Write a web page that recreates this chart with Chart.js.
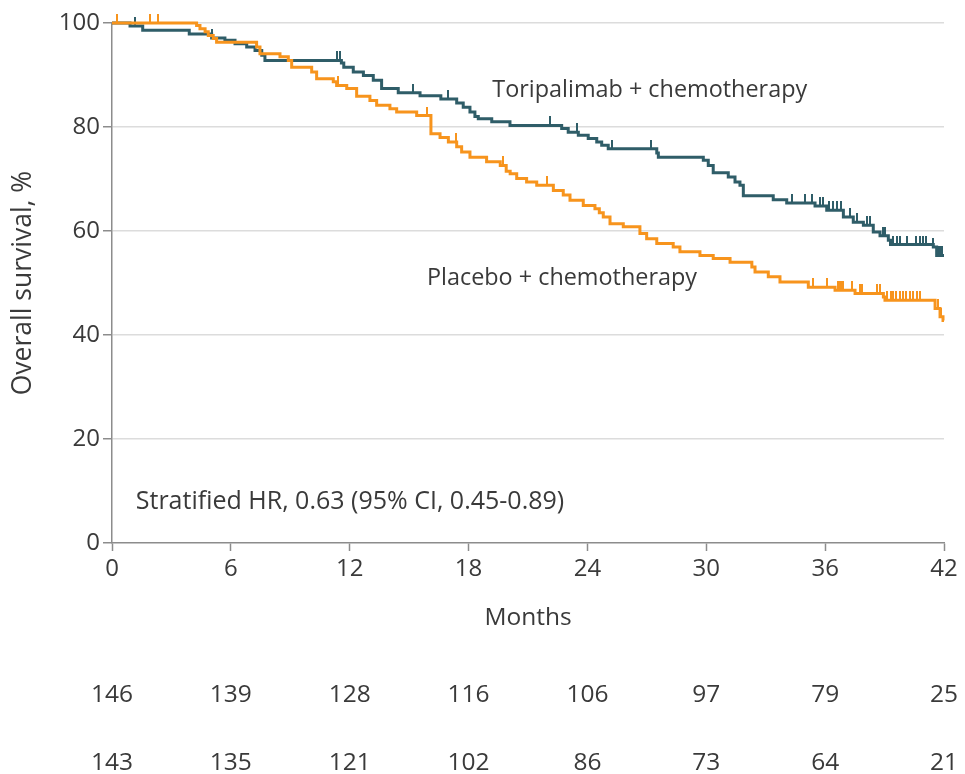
<!DOCTYPE html>
<html><head><meta charset="utf-8">
<script src="https://cdn.jsdelivr.net/npm/chart.js@4"></script>
<style>html,body{margin:0;padding:0;background:#fff}#wrap{width:965px;height:774px;position:relative}</style>
</head><body><div id="wrap"><canvas id="c" width="965" height="774"></canvas></div>
<script>
// ---- data ----
const monthTicks = [0, 6, 12, 18, 24, 30, 36, 42];
const toriAtRisk = [146, 139, 128, 116, 106, 97, 79, 25];
const placAtRisk = [143, 135, 121, 102, 86, 73, 64, 21];

const toriTimes = [0, 0.91, 1.55, 3.90, 5.03, 5.70, 6.21, 6.80, 7.22, 7.56, 7.72, 11.58, 11.70, 12.18, 12.69, 13.19, 13.61, 14.45, 15.55, 16.60, 17.40, 17.73, 18.07, 18.32, 18.49, 19.17, 20.09, 22.70, 23.03, 23.54, 24.04, 24.47, 24.72, 25.05, 27.50, 27.58, 29.85, 30.10, 30.35, 31.11, 31.45, 31.70, 31.87, 33.38, 34.06, 35.49, 36.08, 36.92, 37.42, 37.93, 38.43, 38.77, 39.19, 39.30, 41.46, 41.63, 42];
const toriSurv = [100, 99.4, 98.6, 97.9, 97.1, 96.7, 96.0, 95.4, 94.7, 93.8, 92.8, 92.3, 91.5, 90.6, 89.9, 89.0, 87.4, 86.6, 86.0, 85.4, 84.6, 83.8, 82.9, 82.0, 81.6, 81.0, 80.3, 79.7, 79.0, 78.4, 77.8, 77.1, 76.5, 75.8, 75.0, 74.2, 73.6, 72.6, 71.2, 70.4, 69.4, 68.8, 66.8, 66.0, 65.4, 64.8, 64.0, 62.7, 61.7, 61.1, 59.8, 59.1, 58.2, 57.4, 56.9, 55.3, 55.3];
const toriCensor = [1.16, 5.06, 11.37, 11.52, 15.2, 16.98, 22.11, 23.46, 25.26, 27.21, 34.31, 34.98, 35.32, 35.74, 35.91, 36.2, 36.4, 36.6, 36.8, 37.25, 37.59, 38.1, 38.26, 38.94, 39.02, 39.44, 39.61, 39.77, 40.11, 40.61, 40.78, 40.94, 41.11, 41.46, 41.7, 41.8, 41.9];

const placTimes = [0, 4.27, 4.44, 4.70, 4.86, 5.11, 5.28, 7.30, 7.47, 8.48, 8.90, 9.07, 10.08, 10.33, 11.17, 11.34, 11.85, 12.35, 13.02, 13.36, 14.03, 14.37, 15.38, 16.10, 16.56, 16.98, 17.40, 17.65, 18.07, 18.91, 19.60, 19.90, 20.10, 20.43, 20.93, 21.44, 22.28, 22.78, 23.12, 23.79, 24.38, 24.60, 24.80, 25.14, 25.81, 26.65, 26.99, 27.50, 28.33, 28.67, 29.68, 30.35, 31.20, 32.30, 32.46, 33.13, 33.72, 35.15, 36.50, 37.51, 38.94, 39.02, 41.55, 41.80, 41.95, 42];
const placSurv = [100, 99.5, 98.9, 98.3, 97.6, 97.0, 96.3, 95.4, 94.1, 93.5, 92.8, 91.5, 90.6, 89.3, 88.7, 88.0, 87.4, 85.9, 85.1, 84.2, 83.5, 82.9, 82.2, 78.7, 78.0, 77.1, 76.2, 75.2, 74.2, 73.3, 72.6, 71.5, 71.0, 70.1, 69.4, 68.8, 67.8, 66.9, 65.9, 64.9, 64.3, 63.5, 62.7, 61.4, 60.8, 59.5, 58.5, 57.6, 56.9, 56.0, 55.3, 54.7, 54.0, 53.1, 52.1, 51.2, 50.2, 49.2, 48.6, 48.0, 47.3, 46.7, 45.1, 43.5, 42.8, 42.8];
const placCensor = [0.24, 1.92, 2.34, 11.4, 15.9, 17.37, 19.75, 21.94, 35.4, 36.08, 36.66, 36.75, 36.83, 36.92, 37.34, 37.76, 37.88, 38.6, 38.77, 39.1, 39.3, 39.45, 39.6, 39.8, 39.95, 40.1, 40.28, 40.45, 40.62, 40.78, 41.7, 41.85];

const seriesNames = ['Toripalimab + chemotherapy', 'Placebo + chemotherapy'];
const hrText = 'Stratified HR, 0.63 (95% CI, 0.45-0.89)';
const xTitle = 'Months';
const yTitle = 'Overall survival, %';

// ---- styles ----
const FONT = "'Open Sans', sans-serif";
const TXT = '#3a3a3a';
const TEAL = '#2f5d68';
const ORANGE = '#f7941d';
const AXIS = '#8c8c8c';

function curve(times, surv) { return times.map((t, i) => ({ x: t, y: surv[i] })); }
function stepAt(times, surv, t) {
  let v = surv[0];
  for (let i = 0; i < times.length; i++) { if (times[i] <= t) v = surv[i]; else break; }
  return v;
}
function censorPts(c, times, surv) { return c.map(t => ({ x: t, y: stepAt(times, surv, t) })); }
function tickImg(color) {
  const cv = document.createElement('canvas');
  cv.width = 2; cv.height = 18;
  const g = cv.getContext('2d');
  g.fillStyle = color; g.fillRect(0, 0, 2, 9);
  return cv;
}

const textPlugin = {
  id: 'texts',
  afterDraw(chart) {
    const { ctx, chartArea } = chart;
    const xs = chart.scales.x, ys = chart.scales.y;
    ctx.save();
    ctx.fillStyle = TXT;
    ctx.textBaseline = 'alphabetic';
    ctx.textAlign = 'left';
    ctx.font = `23.4px ${FONT}`;
    ctx.fillText(seriesNames[0], xs.getPixelForValue(19.2), ys.getPixelForValue(85.7));
    ctx.fillText(seriesNames[1], xs.getPixelForValue(15.9), ys.getPixelForValue(49.6));
    ctx.font = `25px ${FONT}`;
    ctx.fillText(hrText, xs.getPixelForValue(1.2), ys.getPixelForValue(6.6));
    ctx.font = `24.5px ${FONT}`;
    ctx.textAlign = 'center';
    ctx.fillText(xTitle, (chartArea.left + chartArea.right) / 2, chartArea.bottom + 82);
    monthTicks.forEach((m, i) => {
      const px = xs.getPixelForValue(m);
      ctx.fillText(String(toriAtRisk[i]), px, chartArea.bottom + 159);
      ctx.fillText(String(placAtRisk[i]), px, chartArea.bottom + 227);
    });
    ctx.restore();
  }
};

new Chart(document.getElementById('c'), {
  type: 'line',
  data: {
    datasets: [
      { label: seriesNames[1], data: curve(placTimes, placSurv), borderColor: ORANGE, borderWidth: 3, stepped: true, pointRadius: 0, fill: false, clip: false, order: 1 },
      { label: seriesNames[1] + ' censored', data: censorPts(placCensor, placTimes, placSurv), showLine: false, pointStyle: tickImg(ORANGE), pointRadius: 9, borderColor: ORANGE, backgroundColor: ORANGE, clip: false, order: 1 },
      { label: seriesNames[0], data: curve(toriTimes, toriSurv), borderColor: TEAL, borderWidth: 3, stepped: true, pointRadius: 0, fill: false, clip: false, order: 2 },
      { label: seriesNames[0] + ' censored', data: censorPts(toriCensor, toriTimes, toriSurv), showLine: false, pointStyle: tickImg(TEAL), pointRadius: 9, borderColor: TEAL, backgroundColor: TEAL, clip: false, order: 2 }
    ]
  },
  options: {
    responsive: false,
    animation: false,
    devicePixelRatio: 1,
    layout: { padding: { left: 0, top: 23, right: 21, bottom: 0 } },
    plugins: { legend: { display: false }, tooltip: { enabled: false } },
    scales: {
      x: {
        type: 'linear', min: 0, max: 42,
        afterFit: s => { s.height = 231; },
        ticks: { stepSize: 6, autoSkip: false, maxRotation: 0, color: TXT, font: { family: FONT, size: 24 }, padding: 4 },
        grid: { drawOnChartArea: false, drawTicks: true, tickLength: 8, tickColor: AXIS, tickWidth: 1.5 },
        border: { color: AXIS, width: 1.5 }
      },
      y: {
        min: 0, max: 100,
        afterFit: s => { s.width = 112; },
        ticks: { stepSize: 20, color: TXT, font: { family: FONT, size: 24 }, padding: 3 },
        grid: { color: c => (c.tick && c.tick.value === 0) ? 'rgba(0,0,0,0)' : '#dcdcdc', lineWidth: 1.5, tickLength: 9, tickColor: AXIS, tickWidth: 1.5 },
        border: { color: AXIS, width: 1.5 },
        title: { display: true, text: yTitle, color: TXT, font: { family: FONT, size: 26.5 }, padding: { top: 8, bottom: 0 } }
      }
    }
  },
  plugins: [textPlugin]
});
</script></body></html>
